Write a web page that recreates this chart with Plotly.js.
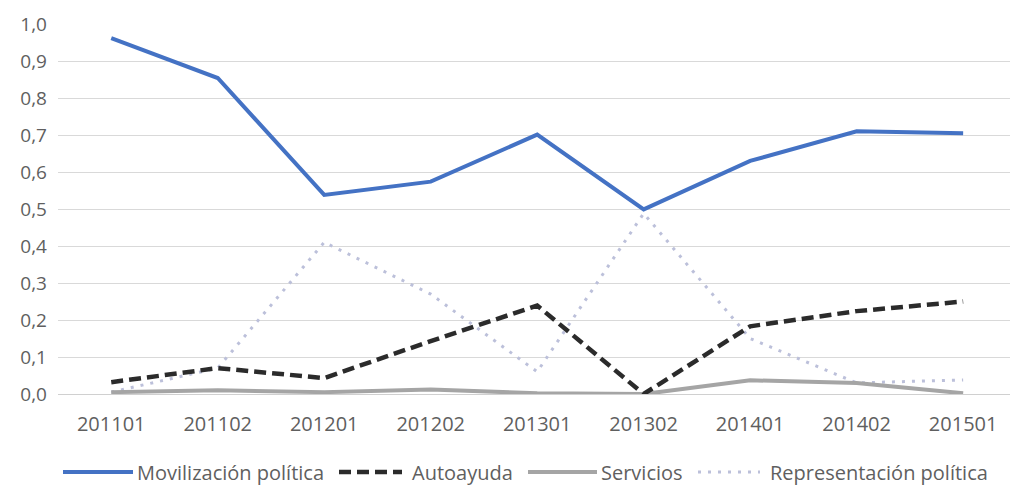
<!DOCTYPE html>
<html>
<head>
<meta charset="utf-8">
<script src="https://cdn.plot.ly/plotly-3.0.1.min.js"></script>
<style>
  html, body { margin: 0; padding: 0; background: #fff; }
  #chart { width: 1010px; height: 485px; }
</style>
</head>
<body>
<div id="chart"></div>
<script>
// Periods (year + semester)
const periods = ['201101', '201102', '201201', '201202', '201301', '201302', '201401', '201402', '201501'];

// Share of each type of action per period
const movilizacion   = [0.962, 0.854, 0.538, 0.574, 0.701, 0.499, 0.630, 0.710, 0.705];
const autoayuda      = [0.032, 0.070, 0.043, 0.143, 0.239, 0.000, 0.183, 0.224, 0.250];
const servicios      = [0.005, 0.010, 0.005, 0.012, 0.002, 0.000, 0.037, 0.030, 0.002];
const representacion = [0.005, 0.070, 0.410, 0.270, 0.060, 0.488, 0.150, 0.030, 0.038];

const seriesNames = ['Movilización política', 'Autoayuda', 'Servicios', 'Representación política'];
const yTicks = [0, 0.1, 0.2, 0.3, 0.4, 0.5, 0.6, 0.7, 0.8, 0.9, 1.0];

const W = 1010, H = 485;
const M = { l: 58, r: 0, t: 24, b: 91 };
const FONT = '"Open Sans", "Noto Sans", sans-serif';
const TEXT = '#5f5f5f';

const styles = [
  { color: '#4472C4', width: 4,   dash: 'solid' },
  { color: '#2b2b2b', width: 4.5, dash: '12px,6px' },
  { color: '#A5A5A5', width: 4,   dash: 'solid' },
  { color: '#BCC0DA', width: 3,   dash: '3px,7px' }
];

const values = [movilizacion, autoayuda, servicios, representacion];

// Draw order: light series underneath, main series on top
const order = [3, 2, 1, 0];
const traces = order.map(i => ({
  type: 'scatter',
  mode: 'lines',
  x: periods,
  y: values[i],
  name: seriesNames[i],
  line: { color: styles[i].color, width: styles[i].width, dash: styles[i].dash, shape: 'linear' },
  hoverinfo: 'x+y+name',
  showlegend: false
}));

// Legend row below the plot, built from the series names and styles
const px2x = px => (px - M.l) / (W - M.l - M.r);
const py2y = py => (H - M.b - py) / (H - M.t - M.b);
const legendRow = 472;
const legendItems = [
  { x0: 63,  x1: 133, tx: 135 },
  { x0: 339, x1: 402, tx: 410 },
  { x0: 528, x1: 597, tx: 599 },
  { x0: 698, x1: 760, tx: 768 }
];
const shapes = [];
const annotations = [];
legendItems.forEach((it, i) => {
  shapes.push({
    type: 'line', xref: 'paper', yref: 'paper',
    x0: px2x(it.x0), x1: px2x(it.x1), y0: py2y(legendRow), y1: py2y(legendRow),
    line: { color: styles[i].color, width: styles[i].width, dash: styles[i].dash }
  });
  annotations.push({
    xref: 'paper', yref: 'paper', x: px2x(it.tx), y: py2y(legendRow),
    xanchor: 'left', yanchor: 'middle', showarrow: false,
    text: seriesNames[i],
    font: { family: FONT, size: 20, color: TEXT }
  });
});

const layout = {
  width: W, height: H,
  margin: M,
  paper_bgcolor: '#ffffff',
  plot_bgcolor: '#ffffff',
  separators: ',.',
  showlegend: false,
  font: { family: FONT, size: 20, color: TEXT },
  xaxis: {
    type: 'category',
    categoryorder: 'array',
    categoryarray: periods,
    range: [-0.5, 8.44],
    showgrid: false,
    zeroline: false,
    showline: false,
    ticks: '',
    ticklabelstandoff: 16,
    tickfont: { family: FONT, size: 20, color: TEXT },
    fixedrange: true
  },
  yaxis: {
    range: [0, 1.0],
    tickvals: yTicks,
    tickformat: '.1f',
    showgrid: true,
    gridcolor: '#d9d9d9',
    gridwidth: 1,
    zeroline: true,
    zerolinecolor: '#d0d0d0',
    zerolinewidth: 1,
    showline: false,
    ticks: '',
    ticklabelstandoff: 10,
    tickfont: { family: FONT, size: 19, color: TEXT },
    fixedrange: true
  },
  shapes: shapes,
  annotations: annotations
};

Plotly.newPlot('chart', traces, layout, { displayModeBar: false, staticPlot: true });
</script>
</body>
</html>
